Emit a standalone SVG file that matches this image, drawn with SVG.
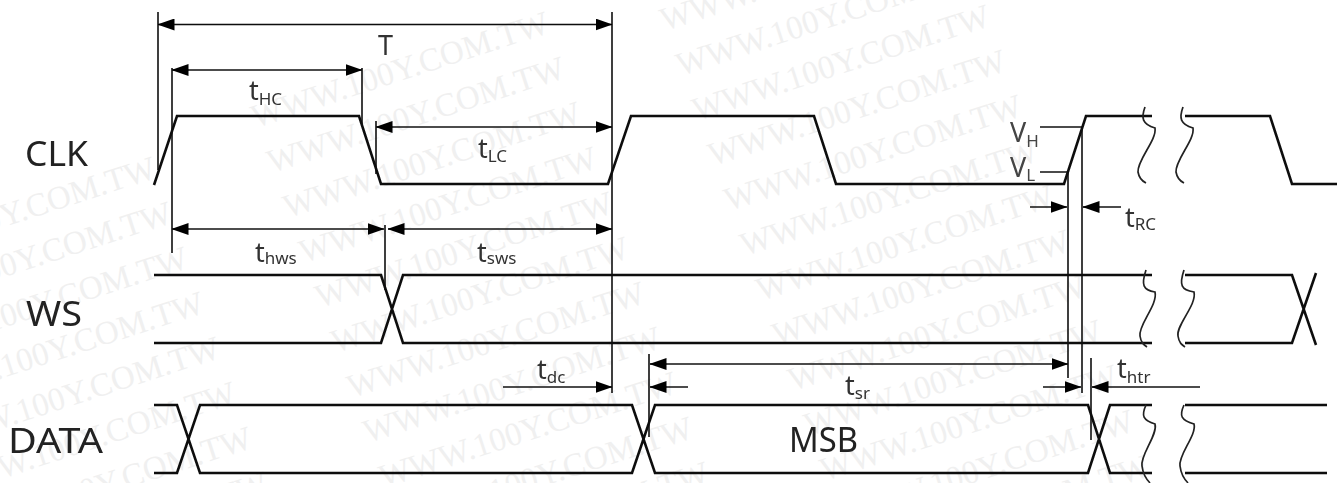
<svg xmlns="http://www.w3.org/2000/svg" width="1340" height="483" viewBox="0 0 1340 483">
<style>
.wm{font-family:"Liberation Serif",serif;font-size:33px;fill:#f0f0f0;text-anchor:end}
.sig{fill:none;stroke:#111;stroke-width:2.6;stroke-linejoin:miter}
.brk{fill:none;stroke:#222;stroke-width:1.7}
.dim{fill:none;stroke:#111;stroke-width:1.6}
.lab{font-family:"Noto Sans",sans-serif;font-size:35px;fill:#222}
.t{font-family:"Noto Sans",sans-serif;font-size:27px;fill:#333}
.s{font-size:17px}
.v{font-family:"Noto Sans",sans-serif;font-size:27px;fill:#444}
</style>
<defs>
<marker id="ah" viewBox="0 0 17 12" refX="16.5" refY="6" markerUnits="userSpaceOnUse" markerWidth="17" markerHeight="12" orient="auto-start-reverse"><path d="M0 0L17 6L0 12Z" fill="#000"/></marker>
<filter id="soft" x="-2%" y="-2%" width="104%" height="104%"><feGaussianBlur stdDeviation="0.4"/></filter>
<text id="w" class="wm">WWW.100Y.COM.TW</text>
</defs>
<rect width="1340" height="483" fill="#fff"/>
<g id="watermark">
<use href="#w" transform="translate(960,-65) rotate(-18)"/>
<use href="#w" transform="translate(976,-20) rotate(-18)"/>
<use href="#w" transform="translate(992,25) rotate(-18)"/>
<use href="#w" transform="translate(1008,70) rotate(-18)"/>
<use href="#w" transform="translate(1024,115) rotate(-18)"/>
<use href="#w" transform="translate(1040,160) rotate(-18)"/>
<use href="#w" transform="translate(1056,205) rotate(-18)"/>
<use href="#w" transform="translate(1072,250) rotate(-18)"/>
<use href="#w" transform="translate(1088,295) rotate(-18)"/>
<use href="#w" transform="translate(1104,340) rotate(-18)"/>
<use href="#w" transform="translate(1120,385) rotate(-18)"/>
<use href="#w" transform="translate(1136,430) rotate(-18)"/>
<use href="#w" transform="translate(1152,475) rotate(-18)"/>
<use href="#w" transform="translate(551,32) rotate(-18)"/>
<use href="#w" transform="translate(567,77) rotate(-18)"/>
<use href="#w" transform="translate(583,122) rotate(-18)"/>
<use href="#w" transform="translate(599,167) rotate(-18)"/>
<use href="#w" transform="translate(615,212) rotate(-18)"/>
<use href="#w" transform="translate(631,257) rotate(-18)"/>
<use href="#w" transform="translate(647,302) rotate(-18)"/>
<use href="#w" transform="translate(663,347) rotate(-18)"/>
<use href="#w" transform="translate(679,392) rotate(-18)"/>
<use href="#w" transform="translate(695,437) rotate(-18)"/>
<use href="#w" transform="translate(711,482) rotate(-18)"/>
<use href="#w" transform="translate(158,177) rotate(-18)"/>
<use href="#w" transform="translate(174,222) rotate(-18)"/>
<use href="#w" transform="translate(190,267) rotate(-18)"/>
<use href="#w" transform="translate(206,312) rotate(-18)"/>
<use href="#w" transform="translate(222,357) rotate(-18)"/>
<use href="#w" transform="translate(238,402) rotate(-18)"/>
<use href="#w" transform="translate(254,447) rotate(-18)"/>
<use href="#w" transform="translate(270,492) rotate(-18)"/>
</g>
<g filter="url(#soft)">
<g id="clk">
<path class="sig" d="M154 185L177 116H359L381 184H608L631 116H814L836 184H1064L1086 116H1152M1185 116H1270L1292 184H1337"/>
<path class="brk" d="M1145 107C1141 118 1142 124 1155 128C1157 140 1137 160 1138 172C1139 178 1142 181 1146 183"/>
<path class="brk" d="M1183 107C1179 118 1180 124 1193 128C1195 140 1175 160 1176 172C1177 178 1180 181 1184 183"/>
<text class="lab" x="25" y="166" textLength="63" lengthAdjust="spacingAndGlyphs">CLK</text>
</g>
<g id="ws">
<path class="sig" d="M154 275H381L403 343H1152M154 343H381L403 275H1152M1185 275H1292L1316 345M1185 343H1292L1316 273"/>
<path class="brk" d="M1146 270C1141 285 1143 290 1155 292C1158 305 1138 325 1140 336C1141 343 1144 345 1147 347"/>
<path class="brk" d="M1184 270C1179 285 1181 290 1194 292C1197 305 1176 325 1178 336C1179 343 1182 345 1185 347"/>
<text class="lab" x="26" y="326" textLength="56" lengthAdjust="spacingAndGlyphs">WS</text>
</g>
<g id="data">
<path class="sig" d="M154 405H177L200 473H632L655 405H1088L1110 473H1152M154 473H177L200 405H632L655 473H1088L1110 405H1152M1185 405H1327M1185 473H1327"/>
<path class="brk" d="M1146 405C1141 416 1143 420 1155 424C1158 435 1140 455 1142 466C1143 474 1146 479 1150 483"/>
<path class="brk" d="M1184 405C1179 416 1181 420 1194 424C1197 435 1178 455 1180 466C1181 474 1184 479 1188 483"/>
<text class="lab" x="8" y="453" textLength="95" lengthAdjust="spacingAndGlyphs">DATA</text>
<text class="lab" x="789" y="452" textLength="69" lengthAdjust="spacingAndGlyphs">MSB</text>
</g>
<g id="connectors">
<path class="dim" d="M158 12V170M612 12V393M172 68V253M362 68V124M376 121V174M385 225V290M649 354V437M1068 172V378M1082 127V393M1091 358V440M1040 127H1082M1040 172H1068"/>
<path class="dim" marker-start="url(#ah)" marker-end="url(#ah)" d="M158 24.500H612"/>
<path class="dim" marker-start="url(#ah)" marker-end="url(#ah)" d="M172 70H362"/>
<path class="dim" marker-start="url(#ah)" marker-end="url(#ah)" d="M376 127H612"/>
<path class="dim" marker-start="url(#ah)" marker-end="url(#ah)" d="M172 229H384"/>
<path class="dim" marker-start="url(#ah)" marker-end="url(#ah)" d="M388 229H612"/>
<path class="dim" marker-end="url(#ah)" d="M503 387H612"/>
<path class="dim" marker-start="url(#ah)" marker-end="url(#ah)" d="M650 364H1068"/>
<path class="dim" marker-end="url(#ah)" d="M688 387H650"/>
<path class="dim" marker-end="url(#ah)" d="M1043 387H1081"/>
<path class="dim" marker-end="url(#ah)" d="M1200 387H1092"/>
<path class="dim" marker-end="url(#ah)" d="M1030 207H1067"/>
<path class="dim" marker-end="url(#ah)" d="M1121 207H1083"/>
</g>
<g id="labels">
<text class="t" x="378" y="55">T</text>
<text class="t" x="249" y="100">t<tspan class="s" dy="5">HC</tspan></text>
<text class="t" x="478" y="158">t<tspan class="s" dy="4">LC</tspan></text>
<text class="t" x="255" y="262">t<tspan class="s" dy="2">hws</tspan></text>
<text class="t" x="477" y="262">t<tspan class="s" dy="2">sws</tspan></text>
<text class="t" x="537" y="379">t<tspan class="s" dy="4">dc</tspan></text>
<text class="t" x="845" y="395">t<tspan class="s" dy="4">sr</tspan></text>
<text class="t" x="1117" y="378">t<tspan class="s" dy="5">htr</tspan></text>
<text class="t" x="1125" y="227">t<tspan class="s" dy="3">RC</tspan></text>
<text class="v" x="1010" y="142">V<tspan class="s" dy="5">H</tspan></text>
<text class="v" x="1010" y="177">V<tspan class="s" dy="4">L</tspan></text>
</g>
</g>
</svg>
